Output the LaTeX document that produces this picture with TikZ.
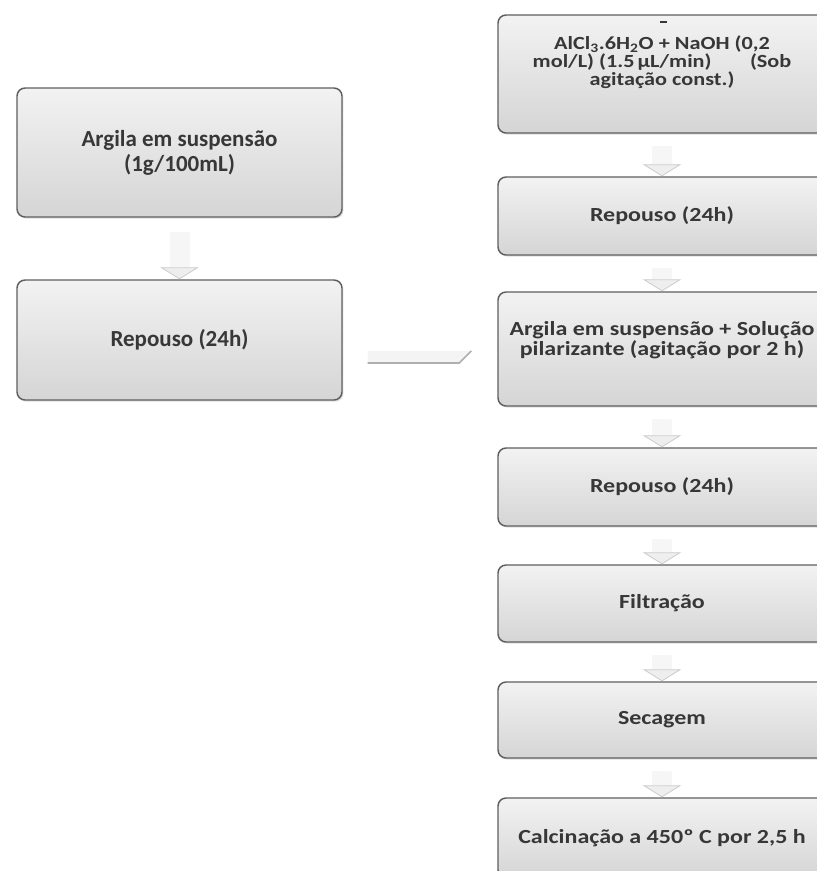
\documentclass[tikz,border=0pt]{standalone}
\usepackage{fontspec}
\setmainfont{Carlito}
\newfontfamily\esqfont{Carlito}
\newfontfamily\dirfont{Carlito}[FakeStretch=1.2]
\usetikzlibrary{arrows.meta,calc,shadows}
\definecolor{textgray}{RGB}{55,55,55}
\definecolor{edgegray}{RGB}{95,95,95}
\newcommand{\px}{0.75pt}
\tikzset{
  etapa/.style={draw=edgegray,line width=1.1pt,rounded corners=6pt,top color=gray!10,bottom color=gray!33,minimum width=325*\px,align=center,text=textgray,drop shadow={opacity=0.25,shadow xshift=1pt,shadow yshift=-1.2pt},font=\esqfont\bfseries\fontsize{17.25}{18.75}\selectfont},
  etapadir/.style={etapa,minimum width=328*\px,font=\dirfont\bfseries\fontsize{15}{13.5}\selectfont},
  textodir/.style={align=center,text=textgray,inner sep=0pt,font=\dirfont\bfseries\fontsize{15}{13.5}\selectfont},
  desce/.style={draw=gray!7,line width=15pt,-{Triangle[length=9pt,width=29pt,line width=0.6pt,color=gray!40,fill=gray!13]}}
}

\begin{document}
\begin{tikzpicture}[x=0.75pt,y=-0.75pt]
\useasboundingbox (0,0) rectangle (817,871);
\fill[white] (0,0) rectangle (817,871);
\clip (0,0) rectangle (817,871);
% coluna da esquerda
\node[etapa,minimum height=129*\px] (argila) at (179.5,152.5) {Argila em suspensão\\(1g/100mL)};
\node[etapa,minimum height=120*\px] (repouso1) at (179.5,340) {Repouso (24h)};
\draw[desce] ($(argila.south)+(0,14)$) -- (repouso1.north);
% coluna da direita
\node[etapadir,minimum height=118*\px] (alcl) at (662,74) {};
\node[textodir,font=\dirfont\bfseries\fontsize{13.9}{12.4}\selectfont] (alcltxt) at ($(alcl.center)+(0,-12)$) {AlCl\textsubscript{3}.6H\textsubscript{2}O + NaOH (0,2\\mol/L) (1.5\,µL/min) \hspace{1.8em}(Sob\\agitação const.)};
\node[etapadir,minimum height=78*\px] (repouso2) at (662,216) {Repouso (24h)};
\node[etapadir,minimum height=114*\px] (solpil) at (662,349) {};
\node[textodir] (solpiltxt) at ($(solpil.center)+(0,-9)$) {Argila em suspensão + Solução\\pilarizante (agitação por 2 h)};
\node[etapadir,minimum height=78*\px] (repouso3) at (662,487) {Repouso (24h)};
\node[etapadir,minimum height=77*\px] (filtra) at (662,603.5) {Filtração};
\node[etapadir,minimum height=76*\px] (seca) at (662,720) {Secagem};
\node[etapadir,minimum height=80*\px] (calcina) at (662,838) {Calcinação a 450º C por 2,5 h};
\foreach \a/\b in {alcl/repouso2,repouso2/solpil,solpil/repouso3,repouso3/filtra,filtra/seca,seca/calcina}
  \draw[desce] ($(\a.south)+(0,12)$) -- (\b.north);
% seta lateral
\coordinate (lat0) at ($(repouso1.east)+(25,23)$);
\coordinate (lat1) at ($(solpil.west)+(-26,2)$);
\fill[gray!9] (lat0) -- ++(0,-12) -- (lat1) -- ($(lat1)+(-12,12)$) -- cycle;
\draw[edgegray!50,line width=1.2pt] (lat0) -- ($(lat1)+(-12,12)$) -- (lat1);
\draw[textgray,line width=1.5pt] (660,22) -- (667,22);
\end{tikzpicture}
\end{document}
